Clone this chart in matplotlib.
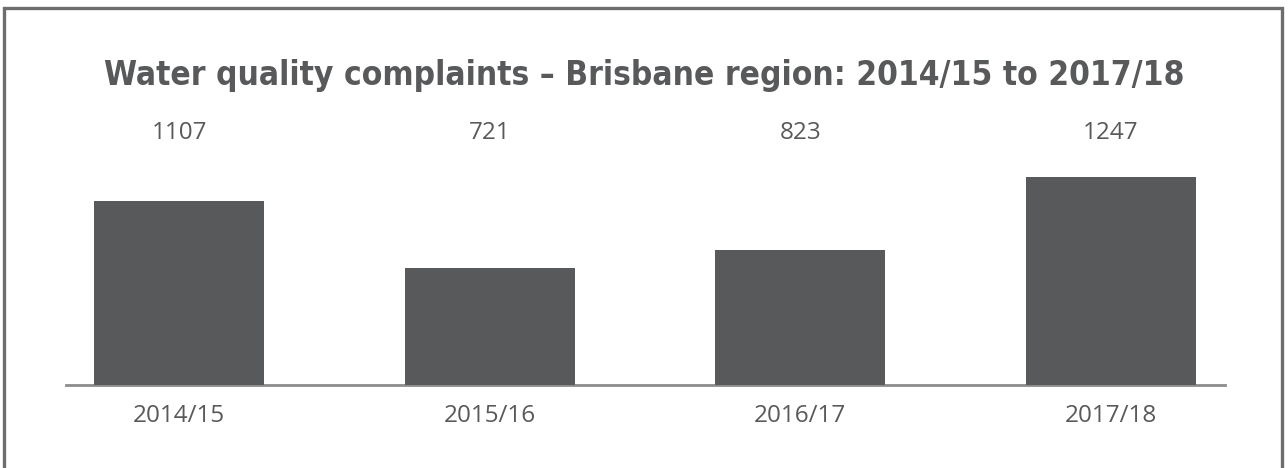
import matplotlib.pyplot as plt
from matplotlib.patches import Rectangle

# data
years = ['2014/15', '2015/16', '2016/17', '2017/18']
complaints = [1107, 721, 823, 1247]

title = 'Water quality complaints \u2013 Brisbane region: 2014/15 to 2017/18'
bar_color = '#58595b'
text_color = '#58595b'

W, H = 1288, 468
fig = plt.figure(figsize=(W / 100, H / 100), dpi=100)
# axes: baseline at y=385px, 1247 reaches y=177px
ax = fig.add_axes([24 / W, (H - 385) / H, 1242 / W, 208 / H])

x = range(len(years))
ax.bar(x, complaints, width=0.547, color=bar_color)
ax.set_xlim(-0.5, 3.5)
ax.set_ylim(40, 1247)
ax.axis('off')

# baseline
ax.plot([42 / 1242, 1201 / 1242], [0, 0], transform=ax.transAxes,
        color='#8c8c8c', lw=2, clip_on=False, zorder=0)

# values and category labels at fixed heights
for i, (yr, v) in enumerate(zip(years, complaints)):
    xf = (24 + (i + 0.5) * 1242 / 4) / W
    fig.text(xf, 1 - 133 / H, str(v), ha='center', va='center',
             fontsize=17.5, family='Open Sans', color=text_color)
    fig.text(xf, 1 - 416 / H, yr, ha='center', va='center',
             fontsize=17.5, family='Open Sans', color=text_color)

fig.text(0.5, 1 - 75 / H, title, ha='center', va='center',
         fontsize=24, fontweight='bold', fontstretch='condensed',
         family='DejaVu Sans', color=text_color)

# outer frame, bottom edge falls outside the picture
fig.patches.append(Rectangle((4 / W, -10 / H), 1278 / W, (H + 2) / H,
                             transform=fig.transFigure, fill=False,
                             edgecolor='#6d6d6d', lw=2.4))

fig.savefig('out.png', dpi=100)
